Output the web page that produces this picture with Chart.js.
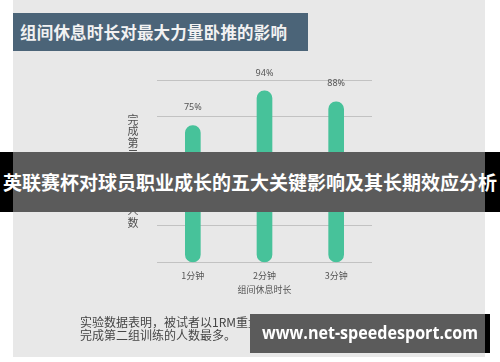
<!DOCTYPE html>
<html>
<head>
<meta charset="utf-8">
<script src="https://cdn.jsdelivr.net/npm/chart.js@4"></script>
<style>
  html, body { margin: 0; padding: 0; background: #fff; }
  body { width: 500px; height: 362px; position: relative; overflow: hidden; font-family: "Noto Sans CJK SC", "Noto Sans", sans-serif; }
  .panel { position: absolute; left: 13px; top: 0; width: 472px; height: 357px; background: #e8e8e8; }
  .titlebar { position: absolute; left: 13px; top: 13px; width: 295px; height: 38px; background: #4b6478; color: #f2f2f2;
    font-weight: bold; font-size: 16.5px; line-height: 38px; padding-left: 7px; box-sizing: border-box; letter-spacing: 0.2px; }
  #wrap { position: absolute; left: 0; top: 0; width: 500px; height: 362px; }
  .note { position: absolute; left: 80px; top: 315px; font-size: 12px; line-height: 13px; color: #454545; }
  .banner { position: absolute; left: 0; top: 152px; width: 500px; height: 60px; background: #000; }
  .banner .inner { position: absolute; left: 13px; top: 0; width: 472px; height: 60px; background: #5b5b5b; }
  .banner .txt { position: absolute; left: 0; top: 0; width: 500px; height: 60px; line-height: 60px; text-align: center;
    color: #fff; font-weight: bold; font-size: 19px; white-space: nowrap; }
  .mark { position: absolute; left: 250px; top: 314px; width: 240px; height: 39px; background: #000; }
  .mark .inner { position: absolute; left: 0; top: 0; width: 235px; height: 39px; background: #5b5b5b; }
  .mark .txt { position: absolute; left: 12px; top: 0; line-height: 37px; color: #fff; font-weight: bold; font-size: 18px;
    font-family: "Open Sans", sans-serif; white-space: nowrap; transform-origin: left center; }
</style>
</head>
<body>
<div class="panel"></div>
<div class="titlebar">组间休息时长对最大力量卧推的影响</div>
<div id="wrap"><canvas id="chart" width="500" height="362"></canvas></div>
<div class="note">实验数据表明，被试者以1RM重量训练，组间休息时长为2分钟时，<br>完成第二组训练的人数最多。</div>
<div class="banner"><div class="inner"></div><div class="txt">英联赛杯对球员职业成长的五大关键影响及其长期效应分析</div></div>
<div class="mark"><div class="inner"></div><div class="txt" id="markTxt">www.net-speedesport.com</div></div>
<script>
const categorias = ['1分钟', '2分钟', '3分钟'];
const percentuais = [75, 94, 88];
const tituloX = '组间休息时长';
const tituloY = '完成第二组训练的人数';

// ajusta a largura do texto da marca d'água
const mk = document.getElementById('markTxt');
const w = mk.getBoundingClientRect().width;
if (w > 0) mk.style.transform = `scaleX(${216 / w})`;

// rótulos acima das barras + título vertical do eixo Y
const rotulos = {
  id: 'rotulos',
  afterDatasetsDraw(chart) {
    const { ctx } = chart;
    ctx.save();
    ctx.fillStyle = '#555';
    ctx.font = '9px "Noto Sans", sans-serif';
    ctx.textAlign = 'center';
    ctx.textBaseline = 'middle';
    chart.getDatasetMeta(0).data.forEach((bar, i) => {
      ctx.fillText(percentuais[i] + '%', bar.x, bar.y - 18);
    });
    const area = chart.chartArea;
    const chars = Array.from(tituloY);
    const passo = 11.4;
    const x = area.left - 24;
    const y0 = (area.top + area.bottom) / 2 - passo * (chars.length - 1) / 2;
    ctx.fillStyle = '#505050';
    ctx.font = '11px "Noto Sans CJK SC", sans-serif';
    chars.forEach((c, i) => ctx.fillText(c, x, y0 + i * passo));
    ctx.restore();
  }
};

const ctx = document.getElementById('chart').getContext('2d');
new Chart(ctx, {
  type: 'bar',
  data: {
    labels: categorias,
    datasets: [{
      data: percentuais,
      backgroundColor: '#47c29a',
      barThickness: 15,
      borderRadius: 8,
      borderSkipped: false
    }]
  },
  options: {
    responsive: false,
    animation: false,
    layout: { padding: { left: 157, right: 128, top: 80, bottom: 63 } },
    plugins: { legend: { display: false }, tooltip: { enabled: false } },
    scales: {
      x: {
        grid: { display: false, drawTicks: false },
        border: { display: false },
        ticks: { color: '#555', font: { size: 9, family: '"Noto Sans CJK SC", sans-serif' }, padding: 8 },
        title: { display: true, text: tituloX, color: '#555', font: { size: 9, family: '"Noto Sans CJK SC", sans-serif' }, padding: { top: -5, bottom: 4 } }
      },
      y: {
        min: 0, max: 100,
        ticks: { display: false, stepSize: 20 },
        border: { display: false },
        grid: { color: '#c2c2c2', lineWidth: 1, drawTicks: false }
      }
    }
  },
  plugins: [rotulos]
});
</script>
</body>
</html>
